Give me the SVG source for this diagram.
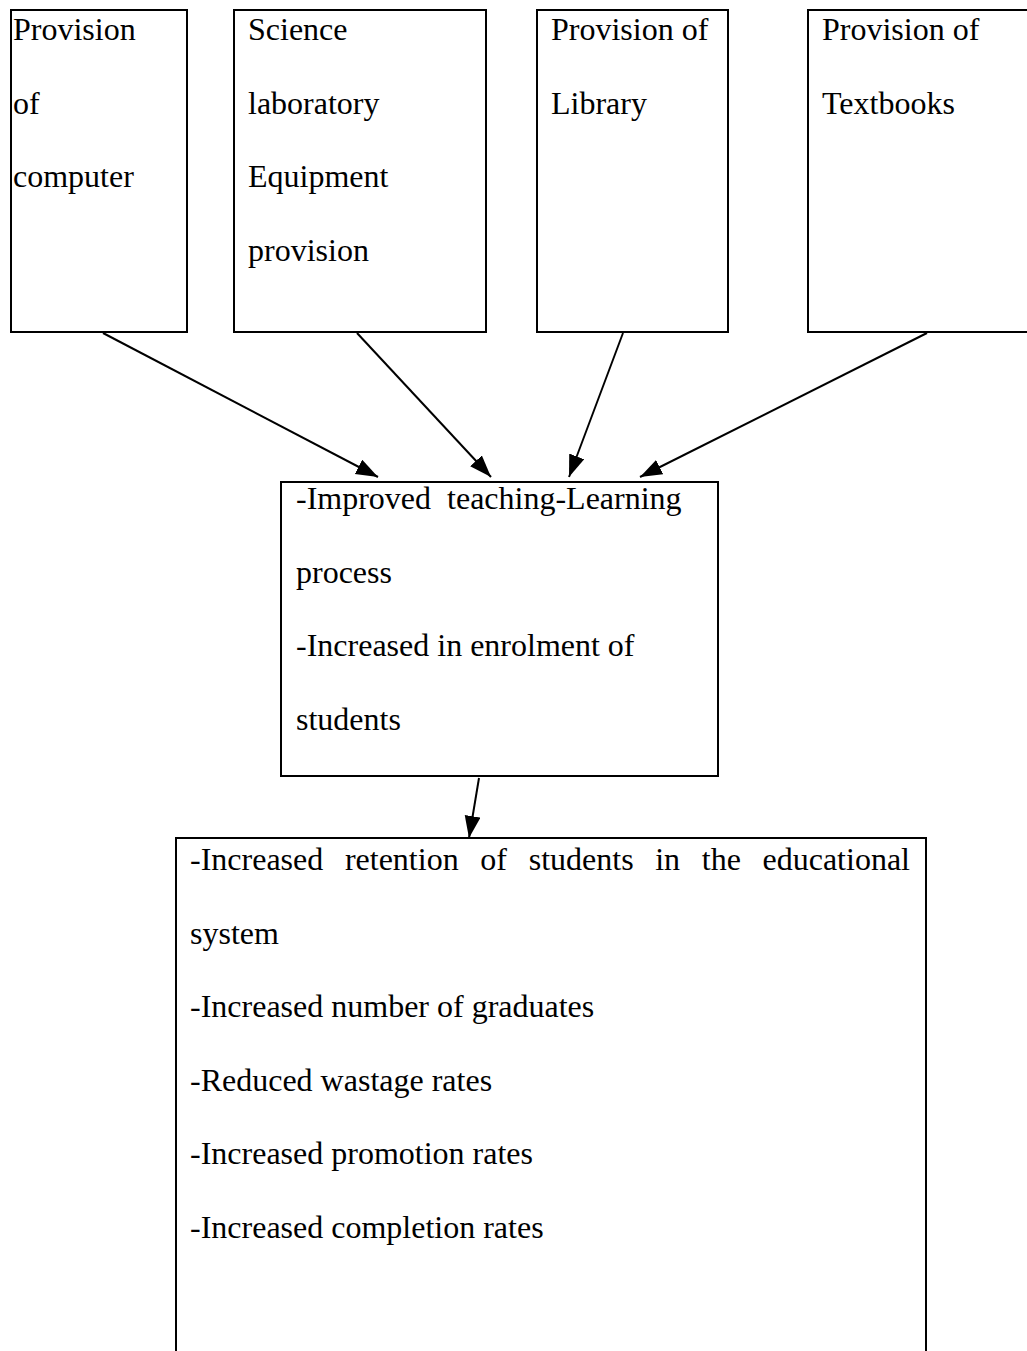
<svg xmlns="http://www.w3.org/2000/svg" width="1027" height="1351" viewBox="0 0 1027 1351">
<defs>
<marker id="arr" markerUnits="userSpaceOnUse" markerWidth="24" markerHeight="18" refX="22" refY="8" orient="auto">
<path d="M0,0 L22,8 L0,16 Z" fill="#000"/>
</marker>
<style>
.box{fill:#fff;stroke:#000;stroke-width:2}
.t{font-family:"Liberation Serif","Times New Roman",serif;font-size:32px;fill:#000}
.c{stroke:#000;stroke-width:2;fill:none;marker-end:url(#arr)}
</style>
</defs>
<rect width="1027" height="1351" fill="#fff"/>
<g id="n1">
<rect class="box" x="11" y="10" width="176" height="322"/>
<text class="t" x="13" y="40">Provision</text>
<text class="t" x="13" y="113.5">of</text>
<text class="t" x="13" y="187">computer</text>
</g>
<g id="n2">
<rect class="box" x="234" y="10" width="252" height="322"/>
<text class="t" x="248" y="40">Science</text>
<text class="t" x="248" y="113.5">laboratory</text>
<text class="t" x="248" y="187">Equipment</text>
<text class="t" x="248" y="260.5">provision</text>
</g>
<g id="n3">
<rect class="box" x="537" y="10" width="191" height="322"/>
<text class="t" x="551" y="40">Provision of</text>
<text class="t" x="551" y="113.5">Library</text>
</g>
<g id="n4">
<rect class="box" x="808" y="10" width="240" height="322"/>
<text class="t" x="822" y="40">Provision of</text>
<text class="t" x="822" y="113.5">Textbooks</text>
</g>
<g id="n5">
<rect class="box" x="281" y="482" width="437" height="294"/>
<text class="t" x="296" y="509" xml:space="preserve">-Improved  teaching-Learning</text>
<text class="t" x="296" y="583">process</text>
<text class="t" x="296" y="656">-Increased in enrolment of</text>
<text class="t" x="296" y="730">students</text>
</g>
<g id="n6">
<rect class="box" x="176" y="838" width="750" height="600"/>
<text class="t" y="870"><tspan x="190">-Increased</tspan><tspan x="344.9">retention</tspan><tspan x="480.3">of</tspan><tspan x="528.7">students</tspan><tspan x="655.2">in</tspan><tspan x="701.8">the</tspan><tspan x="762.5">educational</tspan></text>
<text class="t" x="190" y="944">system</text>
<text class="t" x="190" y="1017">-Increased number of graduates</text>
<text class="t" x="190" y="1091">-Reduced wastage rates</text>
<text class="t" x="190" y="1164">-Increased promotion rates</text>
<text class="t" x="190" y="1238">-Increased completion rates</text>
</g>
<g id="connectors">
<line class="c" x1="103" y1="333" x2="378" y2="477"/>
<line class="c" x1="357" y1="333" x2="491" y2="477"/>
<line class="c" x1="623" y1="333" x2="569" y2="477"/>
<line class="c" x1="927" y1="333" x2="640" y2="477"/>
<line class="c" x1="479" y1="778" x2="469" y2="838"/>
</g>
</svg>
